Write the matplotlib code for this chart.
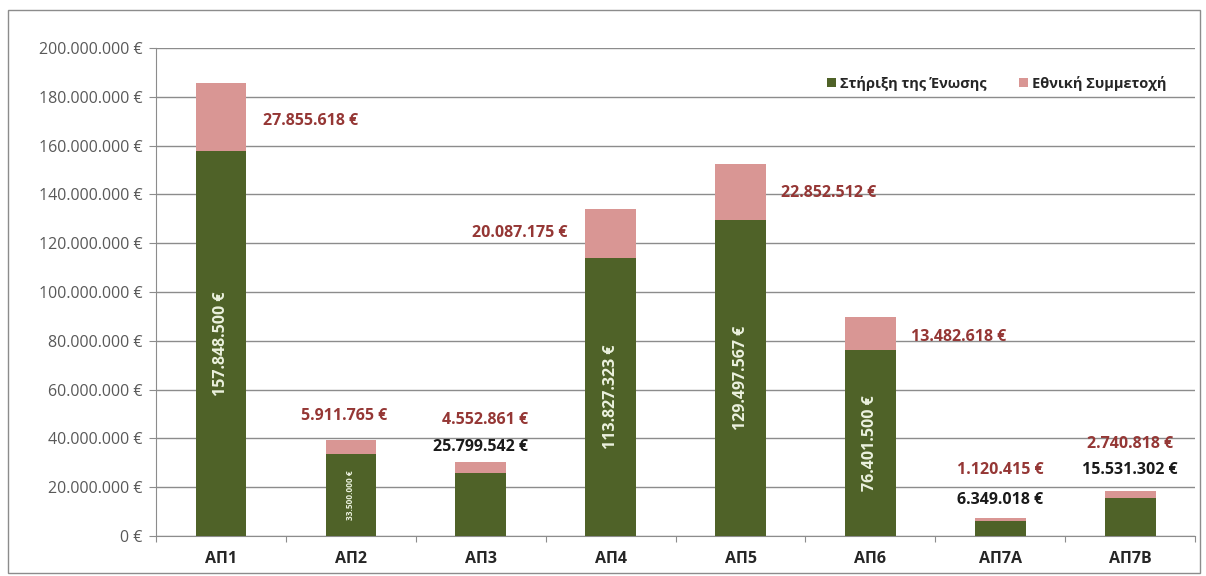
import matplotlib.pyplot as plt
import numpy as np
from matplotlib.patches import Rectangle
from matplotlib.ticker import FuncFormatter

plt.rcParams['font.family'] = ['Open Sans', 'DejaVu Sans']

categories = ['ΑΠ1', 'ΑΠ2', 'ΑΠ3', 'ΑΠ4', 'ΑΠ5', 'ΑΠ6', 'ΑΠ7Α', 'ΑΠ7Β']
union_support = [157848500, 33500000, 25799542, 113827323, 129497567, 76401500, 6349018, 15531302]
national_share = [27855618, 5911765, 4552861, 20087175, 22852512, 13482618, 1120415, 2740818]


def euro(v, pos=None):
    return f"{int(v):,}".replace(',', '.') + ' €'


green = '#4f6228'
pink = '#d99694'
dark_red = '#953735'

fig = plt.figure(figsize=(12.06, 5.76), dpi=100)
ax = fig.add_axes([0.1294, 0.0694, 0.8616, 0.8473])
x = np.arange(len(categories))
w = 0.39
ax.bar(x, union_support, w, color=green, label='Στήριξη της Ένωσης', zorder=3)
ax.bar(x, national_share, w, bottom=union_support, color=pink, label='Εθνική Συμμετοχή', zorder=3)

ax.set_xlim(-0.5, len(categories) - 0.5)
ax.set_ylim(0, 200000000)
ax.set_yticks(np.arange(0, 200000001, 20000000))
ax.yaxis.set_major_formatter(FuncFormatter(euro))
ax.grid(axis='y', color='#8c8c8c', linewidth=1, zorder=0)
ax.set_xticks(np.arange(-0.5, len(categories), 1))
ax.set_xticklabels([])
ax.set_xticks(x, minor=True)
ax.set_xticklabels(categories, minor=True, fontweight='bold', fontsize=11.5, color='#262626')
ax.tick_params(axis='x', which='minor', length=0, pad=11)
ax.tick_params(axis='x', which='major', length=4, color='#8c8c8c')
ax.tick_params(axis='y', length=5, color='#8c8c8c', labelsize=11.5, labelcolor='#595959', pad=5)
for s in ['top', 'right']:
    ax.spines[s].set_visible(False)
ax.spines['left'].set_color('#8c8c8c')
ax.spines['bottom'].set_color('#8c8c8c')

# labels inside green bars
for i in [0, 1, 3, 4, 5]:
    fs = 6 if i == 1 else 11.5
    ax.text(x[i], union_support[i] / 2, euro(union_support[i]), rotation=90,
            ha='center', va='center', color='#ebf1de', fontweight='bold', fontsize=fs, zorder=4)

# labels above small bars
for i, yy in [(2, 36500000), (6, 14800000), (7, 27000000)]:
    ax.text(x[i], yy, euro(union_support[i]), ha='center', va='center',
            color='#1a1a1a', fontweight='bold', fontsize=11.5, zorder=4)

# national share labels
nat_pos = [(0.69, 170000000), (-0.05, 49200000), (0.03, 47500000), (-0.7, 124000000),
           (0.68, 140600000), (0.68, 81600000), (0.0, 27000000), (0.0, 37700000)]
for i, (dx, yy) in enumerate(nat_pos):
    ax.text(x[i] + dx, yy, euro(national_share[i]), ha='center', va='center',
            color=dark_red, fontweight='bold', fontsize=11.5, zorder=4)

leg = ax.legend(loc='upper right', bbox_to_anchor=(0.985, 0.97), ncol=2, frameon=False,
                handlelength=0.6, handleheight=0.6, handletextpad=0.3, columnspacing=2.2,
                prop={'weight': 'bold', 'size': 10.5})
for t in leg.get_texts():
    t.set_color('#262626')

fig.patches.append(Rectangle((0.007, 0.005), 0.988, 0.977, transform=fig.transFigure,
                             fill=False, edgecolor='#8c8c8c', linewidth=1))

fig.savefig('out.png', dpi=100)
